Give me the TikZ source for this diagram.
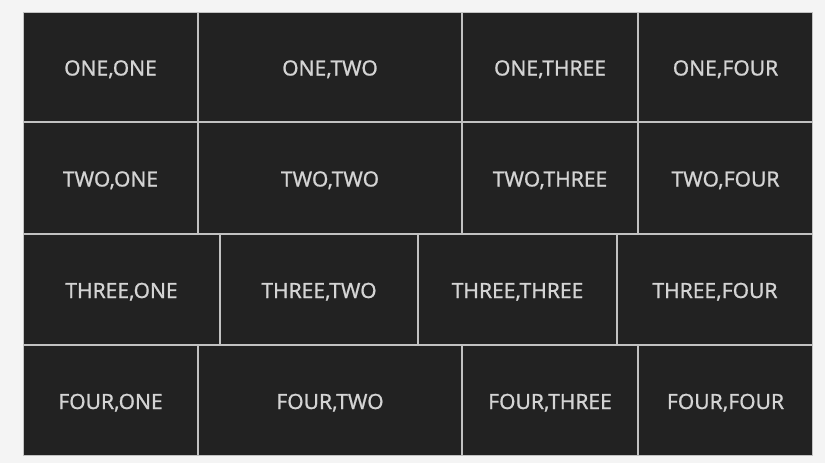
\documentclass[tikz,border=0pt]{standalone}
\usepackage{fontspec}
\setmainfont{Noto Sans}[FakeBold=0.8]
\definecolor{bgc}{HTML}{F4F4F4}
\definecolor{linec}{HTML}{C2C2C2}
\definecolor{cellc}{HTML}{222222}
\definecolor{textc}{HTML}{D4D4D4}
\tikzset{
  cellbox/.style={fill=cellc, draw=none, inner sep=0pt, outer sep=0pt},
  celltext/.style={text=textc, inner sep=0pt, outer sep=0pt, anchor=base,
    font=\fontsize{21}{24}\selectfont}
}
\newcommand{\gridcell}[6]{%
  \node[cellbox, minimum width={(#3-#2-2)*1pt}, minimum height={(#5-#4-2)*1pt}]
    (#1) at ({(#2+#3)/2}, {-(#4+#5)/2}) {};
  \node[celltext] (t#1) at ([yshift=-8.5pt]#1.center) {#6};}
\begin{document}
\begin{tikzpicture}[x=1pt,y=1pt]
  \fill[bgc] (0,0) rectangle (825,-463);
  \useasboundingbox (0,0) rectangle (825,-463);
  \fill[linec] (23,-12) rectangle (813,-456);
  % row 1
  \gridcell{c11}{23}{198}{12}{122}{ONE,ONE}
  \gridcell{c12}{198}{462}{12}{122}{ONE,TWO}
  \gridcell{c13}{462}{638}{12}{122}{ONE,THREE}
  \gridcell{c14}{638}{813}{12}{122}{ONE,FOUR}
  % row 2
  \gridcell{c21}{23}{198}{122}{234}{TWO,ONE}
  \gridcell{c22}{198}{462}{122}{234}{TWO,TWO}
  \gridcell{c23}{462}{638}{122}{234}{TWO,THREE}
  \gridcell{c24}{638}{813}{122}{234}{TWO,FOUR}
  % row 3
  \gridcell{c31}{23}{220}{234}{345}{THREE,ONE}
  \gridcell{c32}{220}{418}{234}{345}{THREE,TWO}
  \gridcell{c33}{418}{617}{234}{345}{THREE,THREE}
  \gridcell{c34}{617}{813}{234}{345}{THREE,FOUR}
  % row 4
  \gridcell{c41}{23}{198}{345}{456}{FOUR,ONE}
  \gridcell{c42}{198}{462}{345}{456}{FOUR,TWO}
  \gridcell{c43}{462}{638}{345}{456}{FOUR,THREE}
  \gridcell{c44}{638}{813}{345}{456}{FOUR,FOUR}
\end{tikzpicture}
\end{document}
